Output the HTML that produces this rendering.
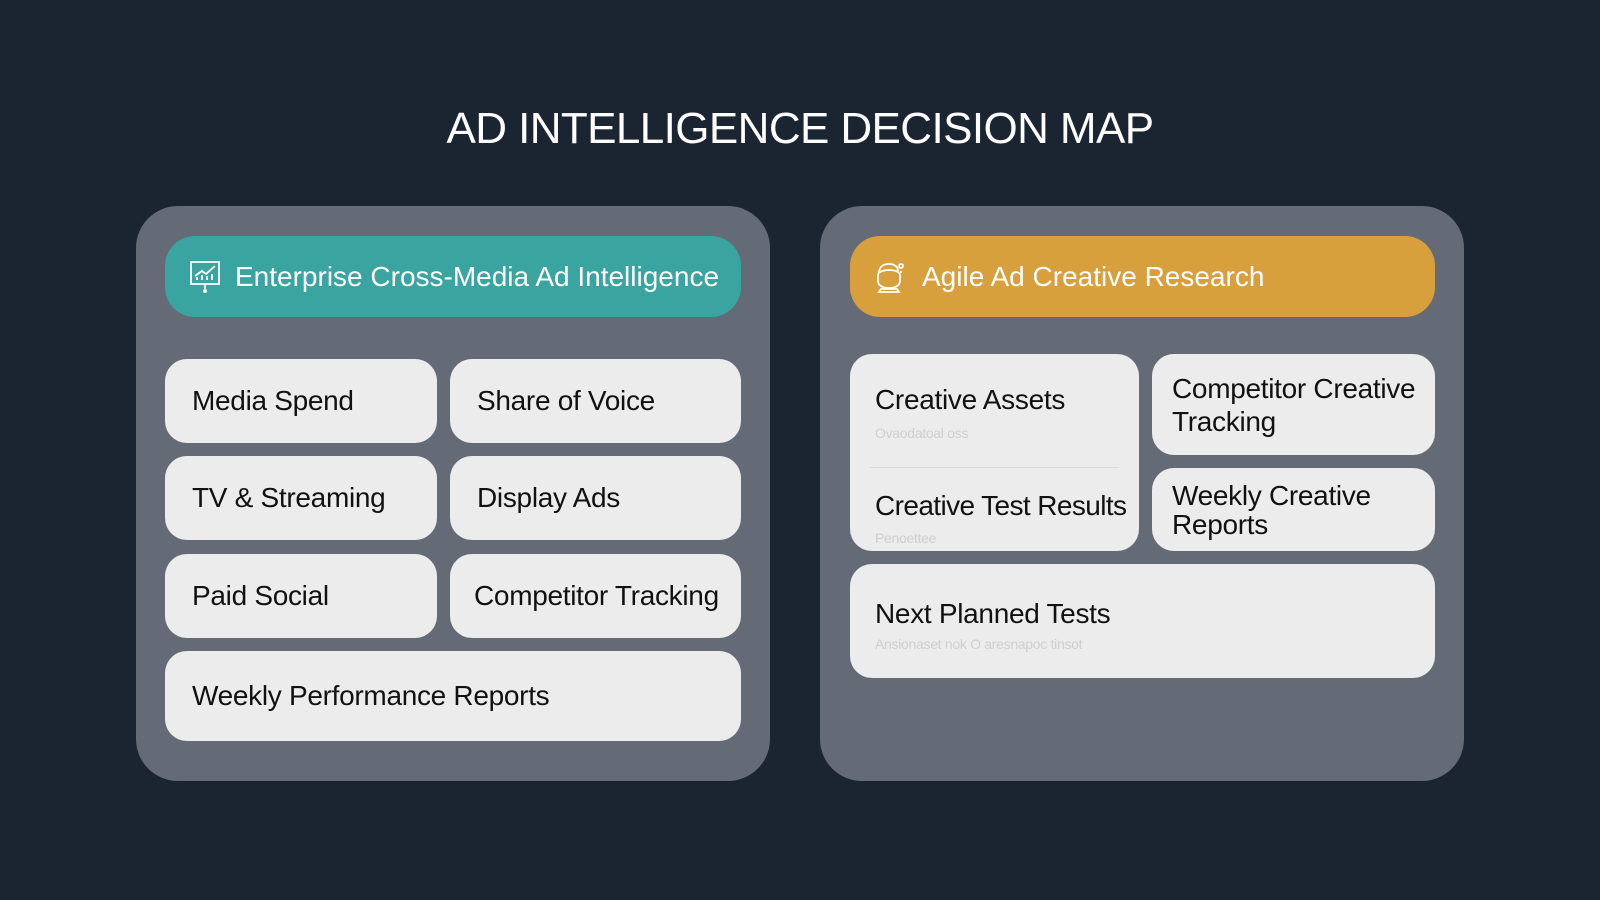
<!DOCTYPE html>
<html><head><meta charset="utf-8"><style>
*{margin:0;padding:0;box-sizing:border-box}
body{width:1600px;height:900px;background:#1b2532;font-family:"Liberation Sans",sans-serif;position:relative;overflow:hidden}
.a{position:absolute}
.title{left:0;width:1600px;top:104px;text-align:center;color:#fff;font-size:44px;letter-spacing:-0.6px}
.panel{background:#646b76;border-radius:42px;top:206px;height:575px}
.hdr{border-radius:30px;top:236px;height:81px;color:#fff;font-size:28px;display:flex;align-items:center}
.card{background:#ececec;border-radius:22px;color:#111;font-size:28px;display:flex;align-items:center;padding-left:27px;letter-spacing:-0.3px}
.sub{position:absolute;color:#cfcfcf;font-size:14px;left:25px}
</style></head><body>
<div class="a title">AD INTELLIGENCE DECISION MAP</div>

<div class="a panel" style="left:136px;width:634px"></div>
<div class="a hdr" style="left:165px;width:576px;background:#3aa5a0;padding-left:24px">
<svg width="32" height="36" viewBox="0 0 32 36" style="margin-right:14px"><g fill="none" stroke="#fff" stroke-width="1.8"><rect x="2" y="3" width="28" height="22"/><path d="M6 17l7-5 4 3 9-8"/><path d="M8 21v-3M13 21v-5M18 21v-4M23 21v-6"/><path d="M16 25v5"/></g><circle cx="16" cy="32" r="2" fill="#fff"/></svg>
Enterprise Cross-Media Ad Intelligence</div>
<div class="a card" style="left:165px;top:359px;width:272px;height:84px">Media Spend</div>
<div class="a card" style="left:450px;top:359px;width:291px;height:84px">Share of Voice</div>
<div class="a card" style="left:165px;top:456px;width:272px;height:84px">TV &amp; Streaming</div>
<div class="a card" style="left:450px;top:456px;width:291px;height:84px">Display Ads</div>
<div class="a card" style="left:165px;top:554px;width:272px;height:84px">Paid Social</div>
<div class="a card" style="left:450px;top:554px;width:291px;height:84px;padding-left:24px">Competitor Tracking</div>
<div class="a card" style="left:165px;top:651px;width:576px;height:90px">Weekly Performance Reports</div>

<div class="a panel" style="left:820px;width:644px"></div>
<div class="a hdr" style="left:850px;width:585px;background:#d8a03d;padding-left:24px">
<svg width="34" height="36" viewBox="0 0 34 36" style="margin-right:14px"><g fill="none" stroke="#fff" stroke-width="1.8"><path d="M5 14c0-6 4-9 10-9s9 3 9 7"/><path d="M4 16c0-3 5-5 11-5s11 2 11 5v6c0 4-4 7-11 7S4 26 4 22z"/><path d="M7 30h16l2 3H5z"/><circle cx="27" cy="7" r="2"/><path d="M27 12v2"/></g></svg>
Agile Ad Creative Research</div>
<div class="a card" style="left:850px;top:354px;width:289px;height:197px;display:block;padding:0">
<div class="a" style="left:25px;top:30px">Creative Assets</div>
<div class="sub" style="top:71px">Ovaodatoal oss</div>
<div class="a" style="left:20px;right:20px;top:113px;height:1px;background:#dadada"></div>
<div class="a" style="left:25px;top:136px;letter-spacing:-0.6px">Creative Test Results</div>
<div class="sub" style="top:176px">Penoettee</div>
</div>
<div class="a card" style="left:1152px;top:354px;width:283px;height:101px;padding-left:20px;line-height:33px">Competitor Creative<br>Tracking</div>
<div class="a card" style="left:1152px;top:468px;width:283px;height:83px;padding-left:20px;line-height:29px">Weekly Creative<br>Reports</div>
<div class="a card" style="left:850px;top:564px;width:585px;height:114px;display:block;padding:0">
<div class="a" style="left:25px;top:34px">Next Planned Tests</div>
<div class="sub" style="top:72px">Ansionaset nok O aresnapoc tinsot</div>
</div>
</body></html>
